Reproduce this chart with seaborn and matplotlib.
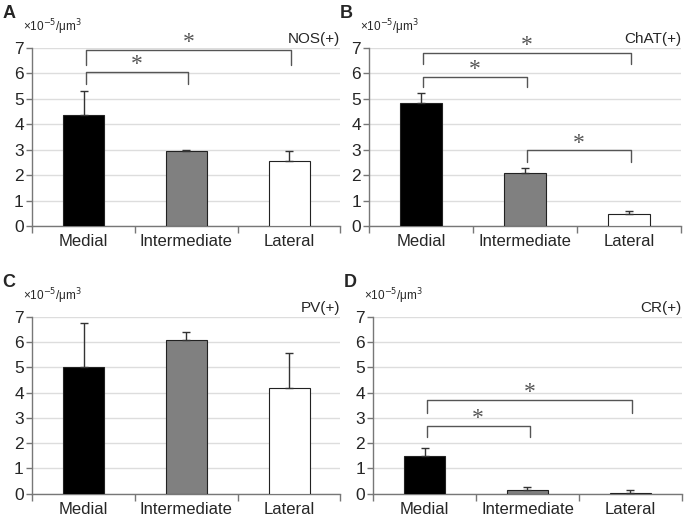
import matplotlib
matplotlib.use("Agg")
import matplotlib.pyplot as plt
import seaborn as sns
import pandas as pd

# categories and values (x10^-5 / um^3)
regions = ["Medial", "Intermediate", "Lateral"]
bar_colors = ["#000000", "#808080", "#ffffff"]

nos_mean = [4.35, 2.95, 2.55]
nos_err = [0.97, 0.03, 0.40]
chat_mean = [4.82, 2.07, 0.47]
chat_err = [0.43, 0.21, 0.10]
pv_mean = [5.0, 6.07, 4.2]
pv_err = [1.75, 0.32, 1.38]
cr_mean = [1.48, 0.13, 0.04]
cr_err = [0.34, 0.12, 0.10]

# significance brackets: (from, to, top, leg bottom at from, leg bottom at to)
nos_sig = [(0, 2, 6.93, 6.35, 6.35), (0, 1, 6.05, 5.6, 5.6)]
chat_sig = [(0, 2, 6.8, 6.38, 6.38), (0, 1, 5.88, 5.46, 5.46), (1, 2, 2.97, 2.53, 2.53)]
pv_sig = []
cr_sig = [(0, 2, 3.73, 3.2, 3.2), (0, 1, 2.7, 2.23, 2.23)]

panels = [
    ("A", "NOS(+)", nos_mean, nos_err, nos_sig, [0.047, 0.563, 0.450, 0.344]),
    ("B", "ChAT(+)", chat_mean, chat_err, chat_sig, [0.539, 0.563, 0.455, 0.344]),
    ("C", "PV(+)", pv_mean, pv_err, pv_sig, [0.047, 0.045, 0.450, 0.342]),
    ("D", "CR(+)", cr_mean, cr_err, cr_sig, [0.545, 0.045, 0.450, 0.342]),
]

sns.set_style("white")
plt.rcParams["font.family"] = ["Liberation Sans", "DejaVu Sans"]

fig = plt.figure(figsize=(6.85, 5.17), dpi=100)

for letter, label, mean, err, sig, rect in panels:
    ax = fig.add_axes(rect)
    df = pd.DataFrame({"region": regions, "value": mean})
    sns.barplot(data=df, x="region", y="value", hue="region", palette=bar_colors,
                order=regions, width=0.4, edgecolor="#222222", linewidth=0.8,
                legend=False, ax=ax, zorder=3)
    ax.errorbar(range(len(regions)), mean, yerr=[[0] * len(err), err], fmt="none",
                ecolor="#333333", elinewidth=1, capsize=3, capthick=1, zorder=4)
    for a, b, top, la, lb in sig:
        xa, xb = a + 0.02, b + 0.02
        ax.plot([xa, xa, xb, xb], [la, top, top, lb], color="#555555", lw=1, zorder=5)
        ax.text((xa + xb) / 2, top - 0.12, "*", ha="center", va="bottom",
                fontsize=17, color="#555555", family="Liberation Serif")

    ax.set_ylim(0, 7)
    ax.set_xlim(-0.5, 2.5)
    ax.set_yticks(range(8))
    ax.set_xticks(range(3))
    ax.set_xticklabels(regions)
    ax.set_xticks([-0.5, 0.5, 1.5, 2.5], minor=True)
    ax.tick_params(axis="x", which="major", bottom=False, length=0, labelsize=12, pad=6)
    ax.tick_params(axis="x", which="minor", bottom=True, length=5, width=1,
                   direction="out", color="#777777")
    ax.tick_params(axis="y", left=True, length=4, width=1, direction="out",
                   color="#777777", labelsize=12.5, pad=2)
    ax.set_xlabel("")
    ax.set_ylabel("")
    ax.yaxis.grid(True, color="#dddddd", lw=1, zorder=0)
    ax.set_axisbelow(True)
    sns.despine(ax=ax)
    for s in ["left", "bottom"]:
        ax.spines[s].set_color("#777777")
        ax.spines[s].set_linewidth(1)

    ax.text(1.0, 7.08, label, transform=ax.get_yaxis_transform(), ha="right",
            va="bottom", fontsize=11)
    ax.text(-0.03, 1.06, "×10$^{-5}$/μm$^{3}$", transform=ax.transAxes,
            ha="left", va="bottom", fontsize=8.5)
    fig.text(rect[0] - 0.043, rect[1] + rect[3] + 0.05, letter, ha="left",
             va="bottom", fontsize=13, fontweight="bold")

fig.savefig("out.png", dpi=100)
